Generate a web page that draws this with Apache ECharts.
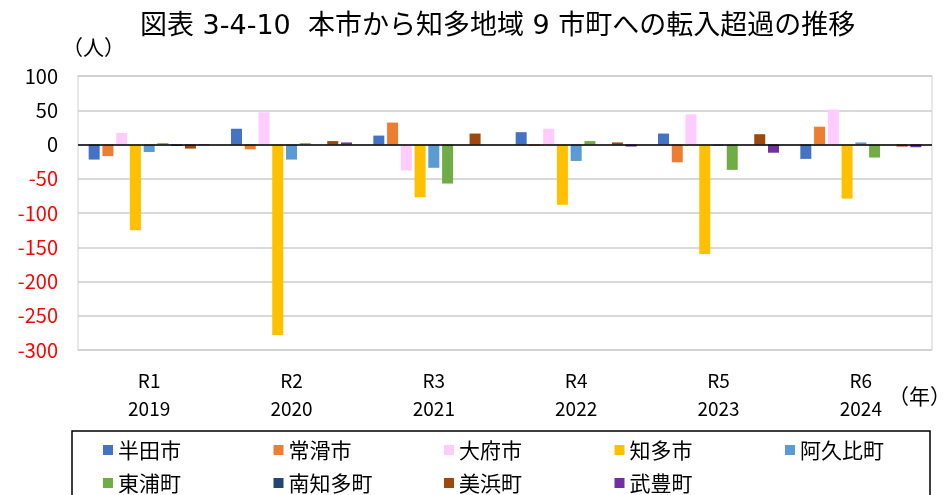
<!DOCTYPE html>
<html>
<head>
<meta charset="utf-8">
<script src="https://cdn.jsdelivr.net/npm/echarts@6/dist/echarts.min.js"></script>
<style>
  html, body { margin: 0; padding: 0; background: #fff; }
  #main { width: 944px; height: 495px; }
</style>
</head>
<body>
<div id="main"></div>
<script>
// 年（和暦＋西暦）
const years = ['R1\n2019', 'R2\n2020', 'R3\n2021', 'R4\n2022', 'R5\n2023', 'R6\n2024'];

// 市町ごとの転入超過（人）
const handa = [-22, 23, 13, 18, 16, -21];
const tokoname = [-17, -7, 32, -2, -26, 26];
const obu = [17, 47, -38, 23, 44, 51];
const chita = [-125, -278, -77, -88, -160, -79];
const agui = [-11, -22, -34, -24, -2, 3];
const higashiura = [2, 2, -57, 5, -37, -19];
const minamichita = [-2, 0, 0, 0, 0, 0];
const mihama = [-6, 5, 16, 3, 15, -3];
const taketoyo = [-1, 3, 0, -3, -12, -4];

const yTicks = { min: -300, max: 100, interval: 50 };

const seriesDefs = [
    { name: '半田市', data: handa, color: '#4472C4' },
    { name: '常滑市', data: tokoname, color: '#ED7D31' },
    { name: '大府市', data: obu, color: '#FFCCFF' },
    { name: '知多市', data: chita, color: '#FFC000' },
    { name: '阿久比町', data: agui, color: '#5B9BD5' },
    { name: '東浦町', data: higashiura, color: '#70AD47' },
    { name: '南知多町', data: minamichita, color: '#264478' },
    { name: '美浜町', data: mihama, color: '#9E480E' },
    { name: '武豊町', data: taketoyo, color: '#7030A0' }
];

const FONT = '"Noto Sans CJK JP", "Noto Sans", sans-serif';
const TITLE_FONT = '"DejaVu Sans", "Noto Sans CJK JP", sans-serif';

function initChart() {
    const chart = echarts.init(document.getElementById('main'));

    const series = seriesDefs.map((s, i) => {
        const item = {
            name: s.name,
            type: 'bar',
            data: s.data,
            barWidth: 11,
            barGap: '25%',
            itemStyle: { color: s.color },
            emphasis: { disabled: true }
        };
        // ゼロ線
        if (i === 0) {
            item.markLine = {
                silent: true,
                symbol: 'none',
                label: { show: false },
                lineStyle: { color: '#000', width: 1.5, type: 'solid' },
                data: [{ yAxis: 0 }]
            };
        }
        return item;
    });

    chart.setOption({
        animation: false,
        textStyle: { fontFamily: FONT },
        title: {
            text: '図表 3-4-10  本市から知多地域 9 市町への転入超過の推移',
            left: 140,
            top: 13,
            padding: 0,
            textStyle: { fontFamily: TITLE_FONT, fontSize: 27, fontWeight: 'normal', color: '#000' }
        },
        grid: {
            left: 78, right: 12, top: 76, bottom: 145,
            show: true, borderColor: '#e0e0e0', borderWidth: 1.5
        },
        xAxis: {
            type: 'category',
            data: years,
            axisLine: { show: false },
            axisTick: { show: false },
            axisLabel: {
                margin: 17,
                fontSize: 19,
                lineHeight: 28,
                color: '#000',
                fontFamily: FONT
            }
        },
        yAxis: {
            type: 'value',
            min: yTicks.min,
            max: yTicks.max,
            interval: yTicks.interval,
            axisLine: { show: false },
            axisTick: { show: false },
            splitLine: { lineStyle: { color: '#cccccc', width: 1.5 } },
            axisLabel: {
                margin: 20,
                fontSize: 20,
                fontFamily: FONT,
                color: (v) => (Number(v) < 0 ? '#FF0000' : '#000')
            }
        },
        legend: {
            data: seriesDefs.map(s => s.name),
            left: 103,
            top: 438,
            width: 860,
            padding: 0,
            itemWidth: 10,
            itemHeight: 10,
            itemGap: 9,
            icon: 'rect',
            selectedMode: false,
            textStyle: {
                fontFamily: FONT,
                fontSize: 21,
                color: '#000',
                width: 146.5,
                lineHeight: 24
            }
        },
        graphic: [
            {
                type: 'rect',
                shape: { x: 72, y: 431, width: 858, height: 90 },
                style: { fill: 'none', stroke: '#000', lineWidth: 1.5 },
                silent: true
            },
            {
                type: 'text',
                left: 62,
                top: 37,
                style: { text: '（人）', fontSize: 21, fontFamily: FONT, fill: '#000' }
            },
            {
                type: 'text',
                left: 888,
                top: 386,
                style: { text: '（年）', fontSize: 21, fontFamily: FONT, fill: '#000' }
            }
        ],
        series: series
    });
}

document.addEventListener('DOMContentLoaded', initChart);
</script>
</body>
</html>
